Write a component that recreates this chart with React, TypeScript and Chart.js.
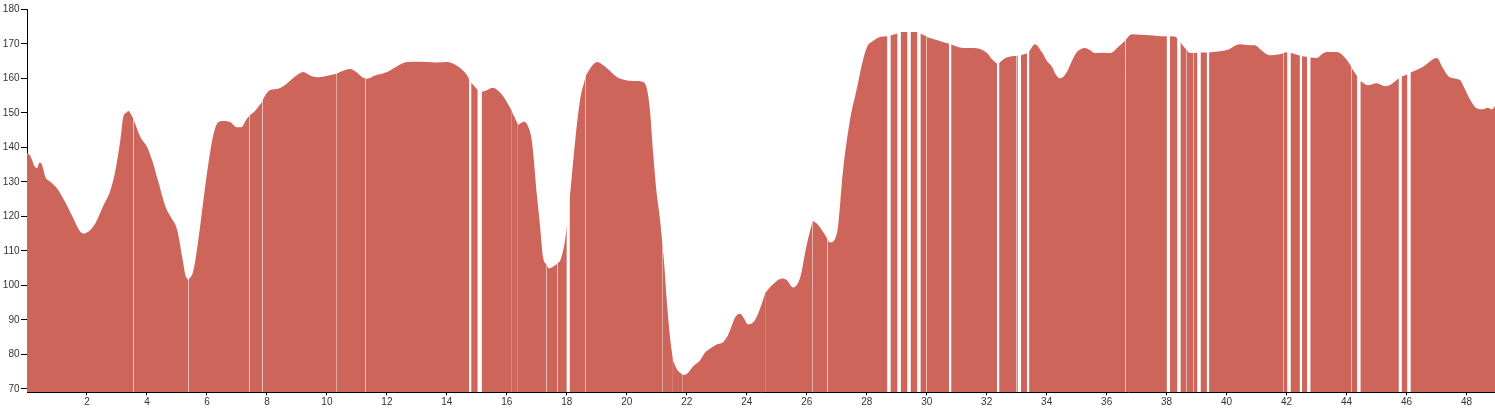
import { useEffect, useRef } from "react";
import { Chart, registerables } from "chart.js";

Chart.register(...registerables);

// Distance along the route (km). A null heart-rate entry marks a recording gap.
const distanceKm: number[] = [
  0, 0.11, 0.28, 0.34, 0.41, 0.48, 0.61, 0.78, 1.01, 1.28,
  1.51, 1.78, 1.88, 2.04, 2.28, 2.54, 2.78, 2.94, 3.11, 3.21,
  3.31, 3.38, 3.47, 3.5485, 3.55, 3.5515, 3.78, 4.01, 4.18, 4.38,
  4.61, 4.78, 5.01, 5.18, 5.28, 5.3785, 5.38, 5.3815, 5.54, 5.71,
  5.88, 6.04, 6.21, 6.38, 6.54, 6.78, 7.01, 7.14, 7.31, 7.4185,
  7.42, 7.4215, 7.54, 7.8485, 7.85, 7.8515, 7.94, 8.11, 8.38, 8.68,
  8.94, 9.21, 9.44, 9.68, 9.94, 10.3285, 10.33, 10.3315, 10.44, 10.78,
  10.98, 11.18, 11.2885, 11.29, 11.2915, 11.34, 11.61, 12.01, 12.34, 12.68,
  13.11, 13.61, 14.01, 14.28, 14.51, 14.62, 14.71, 14.75, 14.78, 14.81,
  14.91, 15.03, 15.1, 15.16, 15.31, 15.54, 15.78, 15.94, 16.1685, 16.17,
  16.1715, 16.3685, 16.37, 16.3715, 16.58, 16.71, 16.84, 17.01, 17.11, 17.21,
  17.3285, 17.33, 17.3315, 17.41, 17.61, 17.6885, 17.69, 17.6915, 17.78, 17.94,
  18, 18.04, 18.09, 18.28, 18.44, 18.6285, 18.63, 18.6315, 18.68, 18.88,
  19.01, 19.18, 19.34, 19.68, 20.01, 20.34, 20.54, 20.68, 20.78, 20.88,
  20.98, 21.11, 21.1985, 21.2, 21.2015, 21.24, 21.34, 21.44, 21.5385, 21.54,
  21.5415, 21.68, 21.8685, 21.87, 21.8715, 22.01, 22.21, 22.44, 22.61, 22.78,
  22.98, 23.21, 23.34, 23.44, 23.61, 23.78, 23.91, 24.04, 24.24, 24.41,
  24.6085, 24.61, 24.6115, 24.84, 25.18, 25.34, 25.54, 25.78, 25.98, 26.1985,
  26.2, 26.2015, 26.38, 26.58, 26.6885, 26.69, 26.6915, 26.78, 27.01, 27.21,
  27.44, 27.68, 27.84, 28.01, 28.21, 28.44, 28.69, 28.74, 28.79, 29.03,
  29.08, 29.13, 29.36, 29.41, 29.46, 29.69, 29.74, 29.79, 29.9985, 30,
  30.0015, 30.44, 30.745, 30.78, 30.815, 31.21, 31.54, 31.78, 32.01, 32.18,
  32.345, 32.38, 32.415, 32.61, 32.84, 32.9985, 33, 33.0015, 33.04, 33.09,
  33.14, 33.345, 33.38, 33.415, 33.61, 33.84, 34.01, 34.18, 34.31, 34.44,
  34.58, 34.71, 34.84, 35.01, 35.28, 35.44, 35.61, 35.88, 36.11, 36.44,
  36.6285, 36.63, 36.6315, 36.84, 37.44, 37.94, 38.01, 38.06, 38.11, 38.31,
  38.36, 38.41, 38.46, 38.54, 38.6685, 38.67, 38.6715, 38.78, 38.8885, 38.89,
  38.8915, 39.03, 39.08, 39.13, 39.24, 39.345, 39.38, 39.415, 39.54, 40.01,
  40.44, 40.78, 40.94, 41.18, 41.44, 41.78, 41.8885, 41.89, 41.8915, 42.03,
  42.08, 42.13, 42.445, 42.48, 42.515, 42.69, 42.74, 42.79, 43.01, 43.18,
  43.34, 43.68, 44.01, 44.1685, 44.17, 44.1715, 44.36, 44.41, 44.46, 44.71,
  45.01, 45.28, 45.54, 45.745, 45.79, 45.835, 46.03, 46.08, 46.13, 46.54,
  47.01, 47.21, 47.44, 47.78, 47.94, 48.11, 48.34, 48.54, 48.71, 48.84, 48.95,
];

// Heart rate (bpm) at each distance; null = no reading.
const heartRate: (number | null)[] = [
  138.5, 137.5, 134.2, 134, 135.5, 135.3, 131.5, 130, 128, 124,
  120, 115.5, 115, 115.5, 118, 123, 127.5, 133, 142, 148.8,
  150, 150.5, 149.5, 148.3, null, 148.1, 143, 140, 136, 130,
  123, 120, 116, 108, 103, 101.5, null, 101.6, 104, 113,
  124.6, 134.8, 143.5, 147.3, 147.6, 147.3, 145.8, 145.8, 148, 149.2,
  null, 149.3, 150, 153.3, null, 153.5, 155, 156.6, 157, 158.6,
  160.5, 161.8, 160.8, 160.3, 160.6, 161.3, null, 161.4, 161.8, 162.7,
  161.8, 160.3, 160, null, 160, 159.9, 160.8, 161.8, 163.5, 164.7,
  164.8, 164.6, 164.7, 163.9, 162.5, 161.5, 160.3, 159.3, null, 158.8,
  157.8, 156.6, null, 156.1, 156.5, 157.3, 155.8, 154, 150.5, null,
  150.2, 146.7, null, 146.5, 147.4, 146, 141.5, 125.5, 117, 108.1,
  106, null, 105.8, 104.9, 105.8, 106.3, null, 106.5, 107.2, 113,
  117.5, null, 124.5, 142, 153.6, 160.5, null, 160.8, 161.5, 164,
  164.7, 164, 162.9, 160.3, 159.4, 159.2, 158.9, 156.6, 150, 138.3,
  128, 118.9, 111, null, 110.5, 107, 94.8, 85, 78.5, null,
  78.2, 75.5, 74, null, 74, 74.4, 76.5, 78.2, 80.5, 81.7,
  82.8, 83.5, 85, 86.9, 90.7, 91.8, 90.4, 88.7, 89.5, 92.5,
  97.5, null, 97.7, 100, 102, 101.5, 99.4, 102.3, 111, 118.8,
  null, 118.7, 117.5, 115, 113.5, null, 113.3, 112.4, 115.3, 133.3,
  147.8, 157.4, 164, 169.1, 170.8, 172, 172.2, null, 172.4, 173,
  null, 173.4, 173.4, null, 173.4, 173.4, null, 173, 172.2, null,
  172, 170.8, 170, null, 169.8, 168.8, 168.8, 168.5, 167.3, 165.5,
  164.2, null, 164.4, 165.8, 166.4, 166.5, null, 166.5, 166.6, null,
  166.7, 167.2, null, 167.8, 169.9, 167.6, 165, 163.3, 161, 160,
  160.7, 162.4, 165, 167.6, 168.8, 168.2, 167.3, 167.4, 167.3, 169.5,
  171, null, 171.2, 172.8, 172.5, 172.2, 172.2, null, 172.2, 172,
  171.5, null, 170.5, 169.5, 168.3, null, 168.1, 167.3, 167.3, null,
  167.3, 167.4, null, 167.5, 167.5, 167.5, null, 167.5, 167.6, 168.2,
  169.9, 169.6, 169.6, 168, 166.7, 167, 167.2, null, 167.3, 167.6,
  null, 167.4, 166.6, null, 166.4, 166.2, null, 166, 165.9, 167,
  167.6, 167.6, 165.3, 163.2, null, 163, 160.5, null, 159.2, 158,
  158.6, 157.7, 158.6, 160, null, 160.5, 161.2, null, 161.7, 163.3,
  165.9, 163, 160.3, 159.5, 157, 154, 151.3, 151, 151.5, 151, 152,
];

const xRange = [0, 48.95];
const yRange = [69, 180];
const xTickStep = 2;
const yTickStep = 10;

const FILL = "#ce655b";
const FONT = { family: "'Liberation Sans', Arial, sans-serif", size: 10 };

export default function App() {
  const ref = useRef<HTMLCanvasElement>(null);

  useEffect(() => {
    const points = distanceKm.map((x, i) => ({ x, y: heartRate[i] }));
    const chart = new Chart(ref.current!, {
      type: "line",
      data: {
        datasets: [
          {
            data: points as any,
            fill: "start",
            backgroundColor: FILL,
            borderColor: "transparent",
            borderWidth: 0,
            pointRadius: 0,
            pointHoverRadius: 0,
            cubicInterpolationMode: "monotone",
            spanGaps: false,
          },
        ],
      },
      options: {
        animation: false,
        responsive: false,
        maintainAspectRatio: false,
        events: [],
        layout: { padding: { top: 9.3, left: 0, right: 0, bottom: 0 } },
        plugins: { legend: { display: false }, tooltip: { enabled: false } },
        scales: {
          x: {
            type: "linear",
            min: xRange[0],
            max: xRange[1],
            afterBuildTicks: (s: any) => {
              s.ticks = s.ticks.filter((t: any) => t.value > 0);
            },
            afterFit: (s: any) => {
              s.height = 21.7;
            },
            ticks: {
              stepSize: xTickStep,
              includeBounds: false,
              autoSkip: false,
              maxRotation: 0,
              padding: 1,
              color: "#333",
              font: FONT,
            },
            grid: {
              drawOnChartArea: false,
              drawTicks: true,
              tickLength: 3,
              color: "#000",
            },
            border: { display: true, color: "#000", width: 1 },
          },
          y: {
            type: "linear",
            min: yRange[0],
            max: yRange[1],
            afterFit: (s: any) => {
              s.width = 27;
            },
            ticks: {
              stepSize: yTickStep,
              includeBounds: false,
              autoSkip: false,
              padding: 1.5,
              color: "#333",
              font: FONT,
            },
            grid: {
              drawOnChartArea: false,
              drawTicks: true,
              tickLength: 6,
              color: "#000",
            },
            border: { display: true, color: "#000", width: 1 },
          },
        },
      },
    });
    return () => chart.destroy();
  }, []);

  return (
    <div
      style={{
        position: "fixed",
        left: 0,
        top: 0,
        width: 1495,
        height: 414,
        background: "#fff",
      }}
    >
      <canvas
        ref={ref}
        width={1495}
        height={414}
        style={{ display: "block", width: 1495, height: 414 }}
      />
    </div>
  );
}
